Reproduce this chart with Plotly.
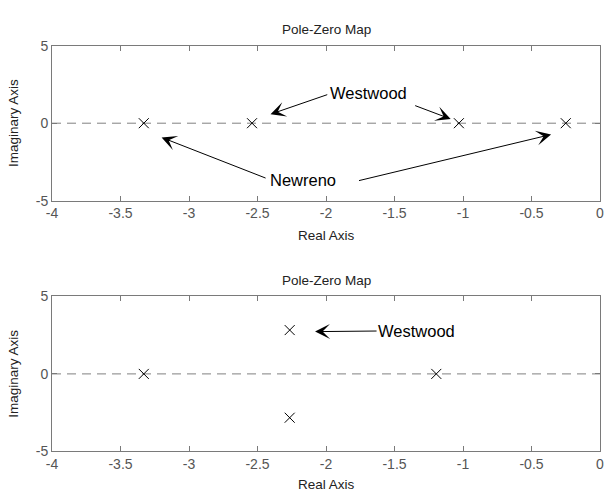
import plotly.graph_objects as go

# Top panel poles (real, imag)
top_real = [-3.33, -2.54, -1.03, -0.25]
top_imag = [0, 0, 0, 0]
# Bottom panel poles
bot_real = [-3.33, -2.265, -2.265, -1.195]
bot_imag = [0, 2.83, -2.83, 0]

x_ticks = [-4, -3.5, -3, -2.5, -2, -1.5, -1, -0.5, 0]
x_ticktext = ["-4", "-3.5", "-3", "-2.5", "-2", "-1.5", "-1", "-0.5", "0"]
y_ticks = [-5, 0, 5]
y_ticktext = ["-5", "0", "5"]

FONT = "Liberation Sans, Arial, sans-serif"
GRAY = "#7a7a7a"

fig = go.Figure()

for xa, ya, re, im in [("x", "y", top_real, top_imag), ("x2", "y2", bot_real, bot_imag)]:
    fig.add_trace(go.Scatter(x=[-4, 0], y=[0, 0], mode="lines",
                             line=dict(color="#808080", width=1, dash="9px,6px"),
                             xaxis=xa, yaxis=ya, showlegend=False, hoverinfo="skip"))
    fig.add_trace(go.Scatter(x=re, y=im, mode="markers",
                             marker=dict(symbol="x-thin-open", size=10, color="black",
                                         line=dict(color="black", width=1)),
                             xaxis=xa, yaxis=ya, showlegend=False))

axis_common = dict(showgrid=False, zeroline=False, showline=True, linecolor=GRAY,
                   linewidth=1, mirror="ticks", ticks="inside", ticklen=5,
                   tickcolor=GRAY, ticklabeloverflow="allow",
                   tickfont=dict(family=FONT, size=14, color="#555555"))

ytitle = dict(text="Imaginary Axis", font=dict(family=FONT, size=13.5, color="#222"), standoff=14)

fig.update_layout(
    width=607, height=500,
    margin=dict(l=52, r=7, t=0, b=0),
    paper_bgcolor="white", plot_bgcolor="white",
    xaxis=dict(domain=[0, 1], range=[-4, 0], anchor="y",
               tickvals=x_ticks, ticktext=x_ticktext, **axis_common),
    yaxis=dict(domain=[0.602, 0.922], range=[-5, 5], anchor="x",
               tickvals=y_ticks, ticktext=y_ticktext, title=ytitle, **axis_common),
    xaxis2=dict(domain=[0, 1], range=[-4, 0], anchor="y2",
                tickvals=x_ticks, ticktext=x_ticktext, **axis_common),
    yaxis2=dict(domain=[0.084, 0.404], range=[-5, 5], anchor="x2",
                tickvals=y_ticks, ticktext=y_ticktext, title=ytitle, **axis_common),
)

anns = []
for yp in [0.9546, 0.4366]:
    anns.append(dict(text="Pole-Zero Map", x=0.5, y=yp, xref="paper", yref="paper",
                     yanchor="middle", showarrow=False,
                     font=dict(family=FONT, size=13.5, color="#222")))
for yp in [0.53, 0.016]:
    anns.append(dict(text="Real Axis", x=0.5, y=yp, xref="paper", yref="paper",
                     yanchor="middle", showarrow=False,
                     font=dict(family=FONT, size=13.5, color="#222")))

# text labels
anns.append(dict(text="Westwood", x=-1.69, y=1.98, xref="x", yref="y", showarrow=False,
                 font=dict(family=FONT, size=16.5, color="black")))
anns.append(dict(text="Newreno", x=-2.17, y=-3.65, xref="x", yref="y", showarrow=False,
                 font=dict(family=FONT, size=16.5, color="black")))
anns.append(dict(text="Westwood", x=-1.336, y=2.77, xref="x2", yref="y2", showarrow=False,
                 font=dict(family=FONT, size=16.5, color="black")))

# arrows: (tail_x, tail_y, head_x, head_y, axis suffix)
arrows = [
    (-1.98, 1.875, -2.405, 0.58, ""),
    (-1.36, 1.17, -1.09, 0.27, ""),
    (-2.43, -3.58, -3.2, -0.92, ""),
    (-1.77, -3.73, -0.357, -0.73, ""),
    (-1.62, 2.77, -2.08, 2.73, "2"),
]
for tx, ty, hx, hy, s in arrows:
    anns.append(dict(text="", x=hx, y=hy, ax=tx, ay=ty, xref="x" + s, yref="y" + s,
                     axref="x" + s, ayref="y" + s, showarrow=True, arrowhead=3,
                     arrowsize=2.5, arrowwidth=1, arrowcolor="black", standoff=0, startstandoff=0))

fig.update_layout(annotations=anns)
fig.write_html("out.html", config={"displayModeBar": False},
               post_script="document.body.style.margin='0';document.body.style.overflow='hidden';")
